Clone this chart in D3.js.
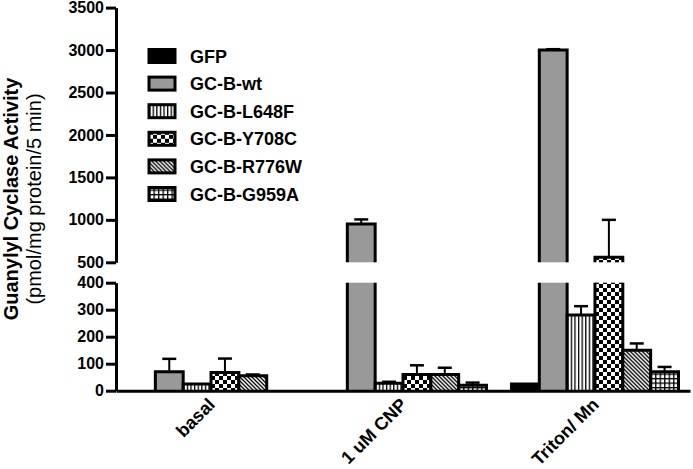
<!DOCTYPE html>
<html>
<head>
<meta charset="utf-8">
<script src="https://cdn.jsdelivr.net/npm/d3@7"></script>
<style>
  body { margin: 0; background: #fff; }
  svg { display: block; font-family: Arial, "Liberation Sans", Helvetica, sans-serif; }
</style>
</head>
<body>
<div id="chart"></div>
<script>
const w = 693;
const h = 469;

// data
const categories = ["basal", "1 uM CNP", "Triton/ Mn"];
const seriesNames = ["GFP", "GC-B-wt", "GC-B-L648F", "GC-B-Y708C", "GC-B-R776W", "GC-B-G959A"];
const gfp = [0, 0, 25];
const gfpErr = [0, 0, 0];
const wt = [70, 950, 3000];
const wtErr = [48, 55, 10];
const l648f = [25, 28, 280];
const l648fErr = [0, 5, 33];
const y708c = [67, 60, 560];
const y708cErr = [52, 34, 440];
const r776w = [55, 60, 150];
const r776wErr = [5, 25, 25];
const g959a = [0, 20, 70];
const g959aErr = [0, 10, 18];
const lowTicks = [0, 100, 200, 300, 400];
const highTicks = [500, 1000, 1500, 2000, 2500, 3000, 3500];

const values = [gfp, wt, l648f, y708c, r776w, g959a];
const errors = [gfpErr, wtErr, l648fErr, y708cErr, r776wErr, g959aErr];
const fills = ["#000", "#999", "url(#vstripe)", "url(#checker)", "url(#diag)", "url(#grid)"];

const rows = [];
categories.forEach((c, ci) => {
    seriesNames.forEach((s, si) => {
        rows.push({cat: c, series: s, value: values[si][ci], err: errors[si][ci], fill: fills[si]});
    });
});

const svg = d3.select("#chart")
    .append("svg")
    .attr("width", w)
    .attr("height", h);

// patterns
const defs = svg.append("defs");
const vs = defs.append("pattern").attr("id", "vstripe").attr("patternUnits", "userSpaceOnUse")
    .attr("width", 3.6).attr("height", 4);
vs.append("rect").attr("width", 3.6).attr("height", 4).attr("fill", "#fff");
vs.append("rect").attr("width", 1.3).attr("height", 4).attr("fill", "#000");

const ck = defs.append("pattern").attr("id", "checker").attr("patternUnits", "userSpaceOnUse")
    .attr("width", 8).attr("height", 8);
ck.append("rect").attr("width", 8).attr("height", 8).attr("fill", "#fff");
ck.append("rect").attr("width", 4).attr("height", 4).attr("fill", "#000");
ck.append("rect").attr("x", 4).attr("y", 4).attr("width", 4).attr("height", 4).attr("fill", "#000");

const dg = defs.append("pattern").attr("id", "diag").attr("patternUnits", "userSpaceOnUse")
    .attr("width", 4).attr("height", 4);
dg.append("rect").attr("width", 4).attr("height", 4).attr("fill", "#fff");
dg.append("path").attr("d", "M-1,-1L5,5M-1,3L1,5M3,-1L5,1")
    .attr("stroke", "#000").attr("stroke-width", 1.3);

const gr = defs.append("pattern").attr("id", "grid").attr("patternUnits", "userSpaceOnUse")
    .attr("width", 4.5).attr("height", 4.5);
gr.append("rect").attr("width", 4.5).attr("height", 4.5).attr("fill", "#000");
gr.append("rect").attr("x", 1.3).attr("y", 1.3).attr("width", 3.2).attr("height", 3.2).attr("fill", "#fff");

// scales
const x0 = d3.scaleBand()
    .domain(categories)
    .range([116, 690])
    .paddingInner(0.13)
    .paddingOuter(0.06);

const x1 = d3.scaleBand()
    .domain(seriesNames)
    .range([0, x0.bandwidth()]);

const yLow = d3.scaleLinear().domain([0, 400]).range([390.7, 282.7]);
const yHigh = d3.scaleLinear().domain([500, 3500]).range([262.3, 7.6]);

//Bars
const bars = svg.append("g").selectAll("g")
    .data(rows)
    .enter()
    .append("g")
    .attr("transform", d => `translate(${x0(d.cat) + x1(d.series)},0)`);

const bw = x1.bandwidth();

bars.each(function(d) {
    const g = d3.select(this);
    if (d.value <= 0) return;
    const lowTop = yLow(Math.min(d.value, 400));
    g.append("rect")
        .attr("x", 0).attr("y", lowTop)
        .attr("width", bw).attr("height", yLow(0) - lowTop)
        .attr("fill", d.fill);
    // outline for lower part (no top edge if broken)
    let p = `M0,${yLow(0)}V${lowTop}`;
    p += d.value <= 400 ? `H${bw}` : `M${bw},${lowTop}`;
    p += `V${yLow(0)}`;
    g.append("path").attr("d", p).attr("fill", "none")
        .attr("stroke", "#000").attr("stroke-width", 3);

    if (d.value > 500) {
        const hiTop = yHigh(d.value);
        g.append("rect")
            .attr("x", 0).attr("y", hiTop)
            .attr("width", bw).attr("height", yHigh(500) - hiTop)
            .attr("fill", d.fill);
        g.append("path")
            .attr("d", `M0,${yHigh(500)}V${hiTop}H${bw}V${yHigh(500)}`)
            .attr("fill", "none").attr("stroke", "#000").attr("stroke-width", 3);
    }

    // error bar
    if (d.err > 0) {
        const yFor = v => v > 400 ? yHigh(v) : yLow(v);
        const y1 = yFor(d.value), y2 = yFor(d.value + d.err);
        g.append("line").attr("x1", bw / 2).attr("x2", bw / 2)
            .attr("y1", y1).attr("y2", y2)
            .attr("stroke", "#000").attr("stroke-width", 2);
        g.append("line").attr("x1", bw / 2 - 7).attr("x2", bw / 2 + 7)
            .attr("y1", y2).attr("y2", y2)
            .attr("stroke", "#000").attr("stroke-width", 2.5);
    }
});

// axes
const styleAxis = sel => {
    sel.select(".domain").attr("stroke-width", 3);
    sel.selectAll(".tick line").attr("stroke-width", 3);
    sel.selectAll(".tick text")
        .attr("font-size", 16)
        .attr("font-weight", "bold")
        .attr("fill", "#000");
};

svg.append("g")
    .attr("transform", "translate(116,0)")
    .call(d3.axisLeft(yLow).tickValues(lowTicks).tickFormat(d3.format("d"))
        .tickSize(10).tickSizeOuter(0).tickPadding(2))
    .call(styleAxis);

svg.append("g")
    .attr("transform", "translate(116,0)")
    .call(d3.axisLeft(yHigh).tickValues(highTicks).tickFormat(d3.format("d"))
        .tickSize(10).tickSizeOuter(0).tickPadding(2))
    .call(styleAxis);

//X axis line
svg.append("g")
    .attr("transform", `translate(0,${yLow(0)})`)
    .call(d3.axisBottom(x0).tickSize(0).tickSizeOuter(0).tickFormat(""))
    .call(g => g.select(".domain").attr("stroke-width", 3));

// category labels
svg.append("g").selectAll("text")
    .data(categories)
    .enter()
    .append("text")
    .attr("transform", d => `translate(${x0(d) + x0.bandwidth() / 2 + 5},${yLow(0) + 15}) rotate(-45)`)
    .attr("text-anchor", "end")
    .attr("font-size", 18)
    .attr("font-weight", "bold")
    .text(d => d);

// y title
svg.append("text")
    .attr("transform", "translate(18,199) rotate(-90)")
    .attr("text-anchor", "middle")
    .attr("font-size", 20)
    .attr("font-weight", "bold")
    .text("Guanylyl Cyclase Activity");

svg.append("text")
    .attr("transform", "translate(41,199) rotate(-90)")
    .attr("text-anchor", "middle")
    .attr("font-size", 20)
    .text("(pmol/mg protein/5 min)");

//Legend
const legend = svg.append("g").selectAll("g")
    .data(seriesNames)
    .enter()
    .append("g")
    .attr("transform", (d, i) => `translate(149,${56 + i * 27.6})`);

legend.append("rect")
    .attr("x", 0).attr("y", -6.5)
    .attr("width", 26).attr("height", 13)
    .attr("fill", (d, i) => fills[i])
    .attr("stroke", "#000")
    .attr("stroke-width", 3);

legend.append("text")
    .attr("x", 41).attr("y", 6.5)
    .attr("font-size", 18)
    .attr("font-weight", "bold")
    .text(d => d);
</script>
</body>
</html>
